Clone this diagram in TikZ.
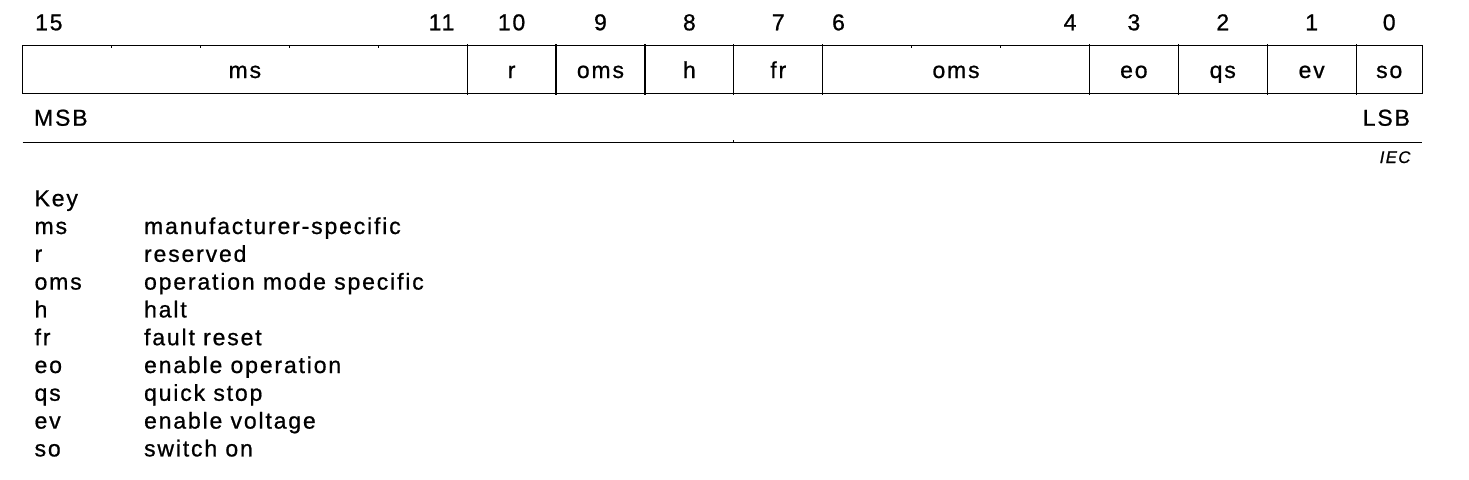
\documentclass[tikz,border=0pt]{standalone}
\usepackage{fontspec}
\setmainfont{Liberation Sans}[LetterSpace=8,FakeBold=0.8]
\begin{document}
\begin{tikzpicture}[x=0.75pt,y=-0.75pt,line width=0.9pt,
  txt/.style={inner sep=0pt,font=\fontsize{17.25}{20}\selectfont},
  cen/.style={txt,anchor=base},
  lft/.style={txt,anchor=base west},
  rgt/.style={txt,anchor=base east},
  smalltick/.style={line width=0.7pt}]
\useasboundingbox (0,0) rectangle (1469,479);
% register box
\draw (22.6,45.7) rectangle (1422.3,93.5);
\foreach \x in {467.1,556.0,644.9,733.8,822.7,1089.4,1178.3,1267.2,1356.1}
  \draw (\x,44.2) -- (\x,95);
\foreach \x in {111.5,200.4,289.3,378.2,911.6,1000.5}
  \draw[smalltick] (\x,45.7) -- (\x,48.2);
\draw (22.6,142.3) -- (1422.3,142.3);
\draw[smalltick] (733.8,142.3) -- (733.8,140.3);
% field labels
\node[cen] (fms)  at (244.85,78) {ms};
\node[cen] (fr1)  at (511.55,78) {r};
\node[cen] (foms1) at (600.45,78) {oms};
\node[cen] (fh)   at (689.35,78) {h};
\node[cen] (ffr)  at (778.25,78) {fr};
\node[cen] (foms2) at (956.05,78) {oms};
\node[cen] (feo)  at (1133.85,78) {eo};
\node[cen] (fqs)  at (1222.75,78) {qs};
\node[cen] (fev)  at (1311.65,78) {ev};
\node[cen] (fso)  at (1389.2,78) {so};
% bit numbers
\node[lft] (b15) at (34.5,30.3) {15};
\node[rgt] (b11) at (455,30.3) {11};
\node[cen] (b10) at (511.55,30.3) {10};
\node[cen] (b9)  at (600.45,30.3) {9};
\node[cen] (b8)  at (689.35,30.3) {8};
\node[cen] (b7)  at (778.25,30.3) {7};
\node[lft] (b6)  at (831.5,30.3) {6};
\node[rgt] (b4)  at (1077,30.3) {4};
\node[cen] (b3)  at (1133.85,30.3) {3};
\node[cen] (b2)  at (1222.75,30.3) {2};
\node[cen] (b1)  at (1311.65,30.3) {1};
\node[cen] (b0)  at (1389.2,30.3) {0};
% MSB / LSB
\node[lft] (msb) at (33.5,125.7) {MSB};
\node[rgt] (lsb) at (1410.5,125.7) {LSB};
\node[rgt,font=\fontsize{12.6}{14}\selectfont\itshape] (iec) at (1411,163) {IEC};
% key
\node[lft] (key) at (34,206.2) {Key};
\foreach \a/\b [count=\i] in {ms/manufacturer-specific,r/reserved,oms/operation mode specific,h/halt,fr/fault reset,eo/enable operation,qs/quick stop,ev/enable voltage,so/switch on}{
  \node[lft] (ka\i) at (34,206.2+27.8*\i) {\a};
  \node[lft] (kb\i) at (143.5,206.2+27.8*\i) {\b};
}
\end{tikzpicture}
\end{document}
